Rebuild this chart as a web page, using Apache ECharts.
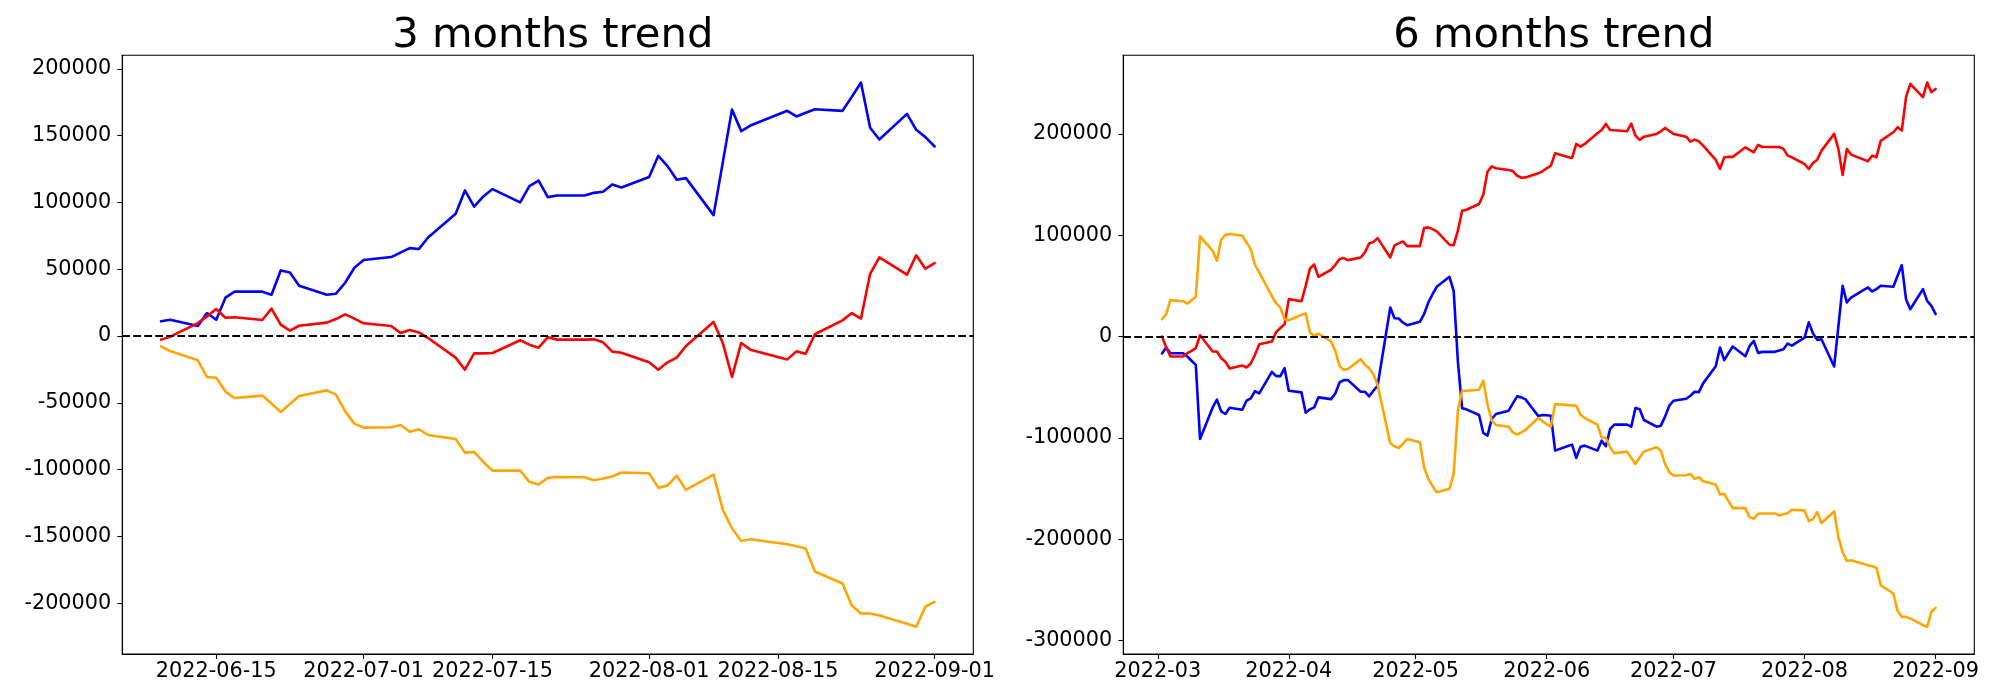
<!DOCTYPE html>
<html>
<head>
<meta charset="utf-8">
<script src="https://cdn.jsdelivr.net/npm/echarts@6/dist/echarts.min.js"></script>
<style>
html,body{margin:0;padding:0;background:#fff;}
#chart{width:2000px;height:700px;}
</style>
</head>
<body>
<div id="chart"></div>
<script>
// ---------- data: 3 months ----------
const leftDates = ['2022-06-09','2022-06-10','2022-06-13','2022-06-14','2022-06-15','2022-06-16','2022-06-17','2022-06-20','2022-06-21','2022-06-22','2022-06-23','2022-06-24','2022-06-27','2022-06-28','2022-06-29','2022-06-30',
'2022-07-01','2022-07-04','2022-07-05','2022-07-06','2022-07-07','2022-07-08','2022-07-11','2022-07-12','2022-07-13','2022-07-14','2022-07-15','2022-07-18','2022-07-19','2022-07-20','2022-07-21','2022-07-22','2022-07-25','2022-07-26','2022-07-27','2022-07-28','2022-07-29',
'2022-08-01','2022-08-02','2022-08-03','2022-08-04','2022-08-05','2022-08-08','2022-08-09','2022-08-10','2022-08-11','2022-08-12','2022-08-16','2022-08-17','2022-08-18','2022-08-19','2022-08-22','2022-08-23','2022-08-24','2022-08-25','2022-08-26','2022-08-29','2022-08-30','2022-08-31',
'2022-09-01'];
const leftBlue = [11000,12200,7500,17200,12200,28700,33200,33200,30900,49100,47600,37700,30900,31700,39900,51100,
56900,59100,62400,65800,65100,73800,91500,109000,96800,104500,110000,100000,112200,116300,104000,105200,105200,107200,108000,113500,111200,
119000,134900,127200,117000,118200,90500,130000,169600,153400,157600,168600,164400,167100,169800,168600,179000,189800,155900,147100,166300,154400,148900,
141900];
const leftRed = [-2700,-500,9700,14700,20200,13700,14000,12000,20500,8500,4000,7700,10000,12700,16200,13000,
9500,7500,2200,4500,2700,-1500,-16200,-25200,-13000,-13000,-12700,-3200,-6500,-8700,-1000,-2700,-2700,-2500,-4700,-11700,-12500,
-19700,-25200,-19700,-16200,-7500,10500,-5200,-30700,-5200,-10200,-17500,-11500,-13200,1300,11700,17200,13000,46600,58900,45900,60400,50400,
54600];
const leftOrange = [-7700,-11200,-18200,-30700,-31200,-41600,-46400,-44600,-50600,-56900,-50900,-44900,-40700,-43900,-56400,-65600,
-68600,-68300,-66600,-71600,-69800,-74100,-77100,-87300,-86800,-94300,-100800,-100800,-109200,-111200,-106200,-105600,-105700,-108000,-106700,-105200,-102200,
-102700,-113500,-112000,-104500,-115200,-103700,-130200,-143900,-153400,-152100,-155900,-157400,-159100,-176300,-185300,-201800,-207800,-207800,-209300,-215500,-217700,-202500,
-199000];
const leftXTicks = ['2022-06-15','2022-07-01','2022-07-15','2022-08-01','2022-08-15','2022-09-01'];
const leftYTicks = [-200000,-150000,-100000,-50000,0,50000,100000,150000,200000];

// ---------- data: 6 months ----------
const rightDates = ['2022-03-02','2022-03-03','2022-03-04','2022-03-07','2022-03-08','2022-03-09','2022-03-10','2022-03-11','2022-03-14','2022-03-15','2022-03-16','2022-03-17','2022-03-18','2022-03-21','2022-03-22','2022-03-23','2022-03-24','2022-03-25','2022-03-28','2022-03-29','2022-03-30','2022-03-31',
'2022-04-01','2022-04-04','2022-04-05','2022-04-06','2022-04-07','2022-04-08','2022-04-11','2022-04-12','2022-04-13','2022-04-14','2022-04-15','2022-04-18','2022-04-19','2022-04-20','2022-04-21','2022-04-22','2022-04-25','2022-04-26','2022-04-27','2022-04-28','2022-04-29',
'2022-05-02','2022-05-03','2022-05-04','2022-05-05','2022-05-06','2022-05-09','2022-05-10','2022-05-11','2022-05-12','2022-05-13','2022-05-16','2022-05-17','2022-05-18','2022-05-19','2022-05-20','2022-05-23','2022-05-24','2022-05-25','2022-05-26','2022-05-27','2022-05-30','2022-05-31',
'2022-06-01','2022-06-02','2022-06-03','2022-06-06','2022-06-07','2022-06-08','2022-06-09','2022-06-10','2022-06-13','2022-06-14','2022-06-15','2022-06-16','2022-06-17','2022-06-20','2022-06-21','2022-06-22','2022-06-23','2022-06-24','2022-06-27','2022-06-28','2022-06-29','2022-06-30',
'2022-07-01','2022-07-04','2022-07-05','2022-07-06','2022-07-07','2022-07-08','2022-07-11','2022-07-12','2022-07-13','2022-07-14','2022-07-15','2022-07-18','2022-07-19','2022-07-20','2022-07-21','2022-07-22','2022-07-25','2022-07-26','2022-07-27','2022-07-28','2022-07-29',
'2022-08-01','2022-08-02','2022-08-03','2022-08-04','2022-08-05','2022-08-08','2022-08-09','2022-08-10','2022-08-11','2022-08-12','2022-08-15','2022-08-16','2022-08-17','2022-08-18','2022-08-19','2022-08-22','2022-08-23','2022-08-24','2022-08-25','2022-08-26','2022-08-29','2022-08-30','2022-08-31',
'2022-09-01'];
const rightBlue = [-16700,-10800,-16400,-16400,-19700,-23900,-27900,-101000,-69900,-62300,-73800,-76400,-70200,-72200,-63300,-61000,-53800,-56100,-34800,-39000,-39000,-31200,
-53500,-55100,-75100,-71800,-69900,-60000,-61700,-56100,-45300,-43000,-43000,-54400,-54400,-59000,-53500,-48500,28600,18100,17800,13800,11200,
14500,22100,33600,41800,49100,58900,45100,-25000,-70800,-71800,-77400,-95100,-97700,-81300,-76400,-73100,-65900,-59000,-60000,-62000,-78400,-77400,
-77700,-78100,-112500,-107900,-106600,-119700,-108600,-107600,-112500,-102700,-108200,-91200,-86900,-86900,-88900,-70500,-71800,-82300,-88900,-87900,-79000,-68200,
-63300,-61300,-58400,-54400,-54800,-46200,-29200,-10800,-23300,-16400,-9800,-19400,-9200,-4300,-16100,-15100,-15100,-13800,-12500,-6900,-8900,
-1000,14000,3000,-3300,-2600,-29500,10000,50100,33600,38500,46100,48400,44500,46800,50100,49100,59900,70500,36900,27000,46800,35200,30300,
22100];
const rightRed = [0,-10800,-19700,-19700,-16400,-14100,-11500,1300,-14800,-14800,-21300,-24900,-31500,-28500,-30500,-26600,-18000,-7500,-4900,4500,8500,12200,
36900,34900,50000,67200,71100,58900,65900,70800,76400,77400,75400,78000,83000,91900,93200,97100,78000,89900,91900,93800,89200,
89200,107000,107700,106000,103700,90600,90200,104400,124100,125100,130700,139900,162700,167900,166000,164300,163300,158700,156700,157000,161000,163000,
166000,168600,180800,177200,176200,190000,187400,190000,200500,203800,209800,203800,203500,202500,210100,198200,194000,197200,199900,202500,205800,202800,
199900,197200,192300,194300,192600,188400,174200,165300,176800,177200,177200,186700,184100,181800,189000,187000,187000,187000,185100,178500,176800,
170200,165300,171200,174500,183400,199900,185100,159400,185100,179500,174500,172900,178500,176800,193000,201500,206500,203200,236100,249300,236100,250600,241000,
244300];
const rightOrange = [17100,22100,35900,34900,32600,35900,39200,98800,84600,74800,95500,100400,101100,99400,92900,86300,70800,63200,39800,32900,28600,17100,
16100,21400,22700,4000,700,3000,-4900,-14100,-28900,-33100,-32100,-22300,-27900,-31200,-37100,-47600,-105300,-108200,-109900,-105900,-101000,
-104300,-128900,-140400,-147600,-153500,-150200,-135500,-73100,-53500,-53500,-52500,-43600,-66600,-83000,-87200,-88900,-94500,-96800,-94500,-92000,-80400,-83600,
-86300,-88900,-66600,-67600,-67900,-68200,-77100,-80400,-86900,-99400,-100000,-109200,-115100,-113500,-119700,-125600,-119400,-113500,-109200,-112500,-125600,-133800,
-137100,-136800,-135500,-140400,-138700,-142700,-146000,-155800,-155100,-162400,-169200,-169200,-178100,-179700,-174800,-174500,-174500,-176500,-175200,-174200,-170900,
-171500,-182000,-180100,-173200,-184000,-172500,-197800,-212500,-221400,-220700,-224400,-225700,-226600,-228000,-245300,-253500,-270600,-276500,-276500,-278100,-284700,-286300,-271600,
-267600];
const rightXTicks = ['2022-03-01','2022-04-01','2022-05-01','2022-06-01','2022-07-01','2022-08-01','2022-09-01'];
const rightYTicks = [-300000,-200000,-100000,0,100000,200000];

const titles = ['3 months trend', '6 months trend'];
const seriesColors = ['#0000ff', '#ff0000', '#ffa500'];

// ---------- helpers ----------
function ts(s) { const p = s.split('-').map(Number); return Date.UTC(p[0], p[1] - 1, p[2] || 1); }
function pad2(n) { return (n < 10 ? '0' : '') + n; }
function fmtDay(v) { const d = new Date(v); return d.getUTCFullYear() + '-' + pad2(d.getUTCMonth() + 1) + '-' + pad2(d.getUTCDate()); }
function fmtMonth(v) { const d = new Date(v); return d.getUTCFullYear() + '-' + pad2(d.getUTCMonth() + 1); }
function padRange(lo, hi) { const m = (hi - lo) * 0.05; return [lo - m, hi + m]; }

const FONT = 'DejaVu Sans';
const TICK_FS = 20.8;

function axisPair(idx, dates, seriesVals, xTicks, yTicks, fmt) {
  const xs = dates.map(ts);
  const xr = padRange(Math.min(...xs), Math.max(...xs));
  const all = [].concat(...seriesVals);
  const yr = padRange(Math.min(...all), Math.max(...all));
  const common = {
    gridIndex: idx,
    type: 'value',
    axisLine: { show: true, onZero: false, lineStyle: { color: '#000', width: 1.1 } },
    axisTick: { show: true, length: 4.9, lineStyle: { color: '#000', width: 1.1 } },
    splitLine: { show: false }
  };
  const xAxis = Object.assign({}, common, {
    min: xr[0], max: xr[1],
    axisTick: Object.assign({}, common.axisTick, { customValues: xTicks.map(ts) }),
    axisLabel: { customValues: xTicks.map(ts), formatter: fmt, color: '#000', fontFamily: FONT, fontSize: TICK_FS, margin: 7, hideOverlap: false }
  });
  const yAxis = Object.assign({}, common, {
    min: yr[0], max: yr[1],
    axisTick: Object.assign({}, common.axisTick, { customValues: yTicks }),
    axisLabel: { customValues: yTicks, formatter: v => String(Math.round(v)), color: '#000', fontFamily: FONT, fontSize: TICK_FS, margin: 11 }
  });
  return { xAxis, yAxis, xs };
}

const L = axisPair(0, leftDates, [leftBlue, leftRed, leftOrange], leftXTicks, leftYTicks, fmtDay);
const R = axisPair(1, rightDates, [rightBlue, rightRed, rightOrange], rightXTicks, rightYTicks, fmtMonth);

function lines(axisIdx, xs, vals) {
  return vals.map((arr, k) => {
    const s = {
      type: 'line',
      xAxisIndex: axisIdx, yAxisIndex: axisIdx,
      data: xs.map((x, i) => [x, arr[i]]),
      showSymbol: false, symbol: 'none',
      lineStyle: { color: seriesColors[k], width: 2.6, join: 'round', cap: 'round' },
      itemStyle: { color: seriesColors[k] },
      smooth: false, silent: true, z: 2 + k
    };
    if (k === vals.length - 1) {
      s.markLine = {
        silent: true, symbol: ['none', 'none'], label: { show: false },
        lineStyle: { color: '#000', type: [7.7, 3.3], width: 2.1 },
        data: [{ yAxis: 0 }], animation: false
      };
    }
    return s;
  });
}

const gridBox = { top: 55.3, height: 598.7, width: 851, show: true, borderColor: '#000', borderWidth: 1.1, backgroundColor: 'transparent', containLabel: false };

const chart = echarts.init(document.getElementById('chart'), null, { renderer: 'canvas' });
chart.setOption({
  animation: false,
  backgroundColor: '#fff',
  title: [
    { text: titles[0], left: 547.8, top: 10, textAlign: 'center', textStyle: { fontFamily: FONT, fontSize: 41.7, fontWeight: 'normal', color: '#000' } },
    { text: titles[1], left: 1548.8, top: 10, textAlign: 'center', textStyle: { fontFamily: FONT, fontSize: 41.7, fontWeight: 'normal', color: '#000' } }
  ],
  grid: [
    Object.assign({ left: 122.3 }, gridBox),
    Object.assign({ left: 1123.3 }, gridBox)
  ],
  xAxis: [L.xAxis, R.xAxis],
  yAxis: [L.yAxis, R.yAxis],
  series: [].concat(
    lines(0, L.xs, [leftBlue, leftRed, leftOrange]),
    lines(1, R.xs, [rightBlue, rightRed, rightOrange])
  )
});
</script>
</body>
</html>
